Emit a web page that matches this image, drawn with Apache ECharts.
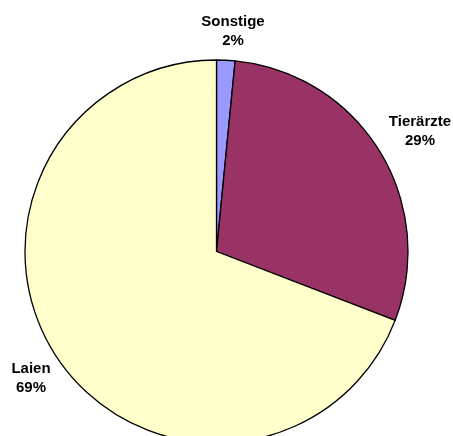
<!DOCTYPE html>
<html>
<head>
<meta charset="utf-8">
<script src="https://cdn.jsdelivr.net/npm/echarts@6/dist/echarts.min.js"></script>
<style>
html,body{margin:0;padding:0;background:#fff;}
#chart{width:453px;height:436px;}
</style>
</head>
<body>
<div id="chart"></div>
<script>
// Data
const categories = ['Sonstige', 'Tierärzte', 'Laien'];
const values = [1.55, 29.3, 69.15];
const colors = ['#9999FF', '#993366', '#FFFFCC'];
// Label anchor positions (layout, px)
const labelPos = [[233, 31], [420, 131.5], [31, 378]];

const chart = echarts.init(document.getElementById('chart'), null, {renderer: 'canvas'});
chart.setOption({
  backgroundColor: '#ffffff',
  animation: false,
  series: [{
    type: 'pie',
    center: [216.5, 251.5],
    radius: 191.5,
    startAngle: 90,
    clockwise: true,
    percentPrecision: 0,
    data: categories.map((c, i) => ({
      name: c, value: values[i],
      itemStyle: {color: colors[i]}
    })),
    itemStyle: {borderColor: '#000000', borderWidth: 1.3},
    label: {
      show: true,
      position: 'inside',
      overflow: 'none',
      formatter: '{b}\n{d}%',
      fontFamily: 'Liberation Sans, Arial, sans-serif',
      fontWeight: 'bold',
      fontSize: 15,
      lineHeight: 19,
      color: '#000000'
    },
    labelLine: {show: false},
    labelLayout: function (p) {
      const pos = labelPos[p.dataIndex];
      return {x: pos[0], y: pos[1], align: 'center', verticalAlign: 'middle'};
    },
    emphasis: {disabled: true}
  }]
});
</script>
</body>
</html>
